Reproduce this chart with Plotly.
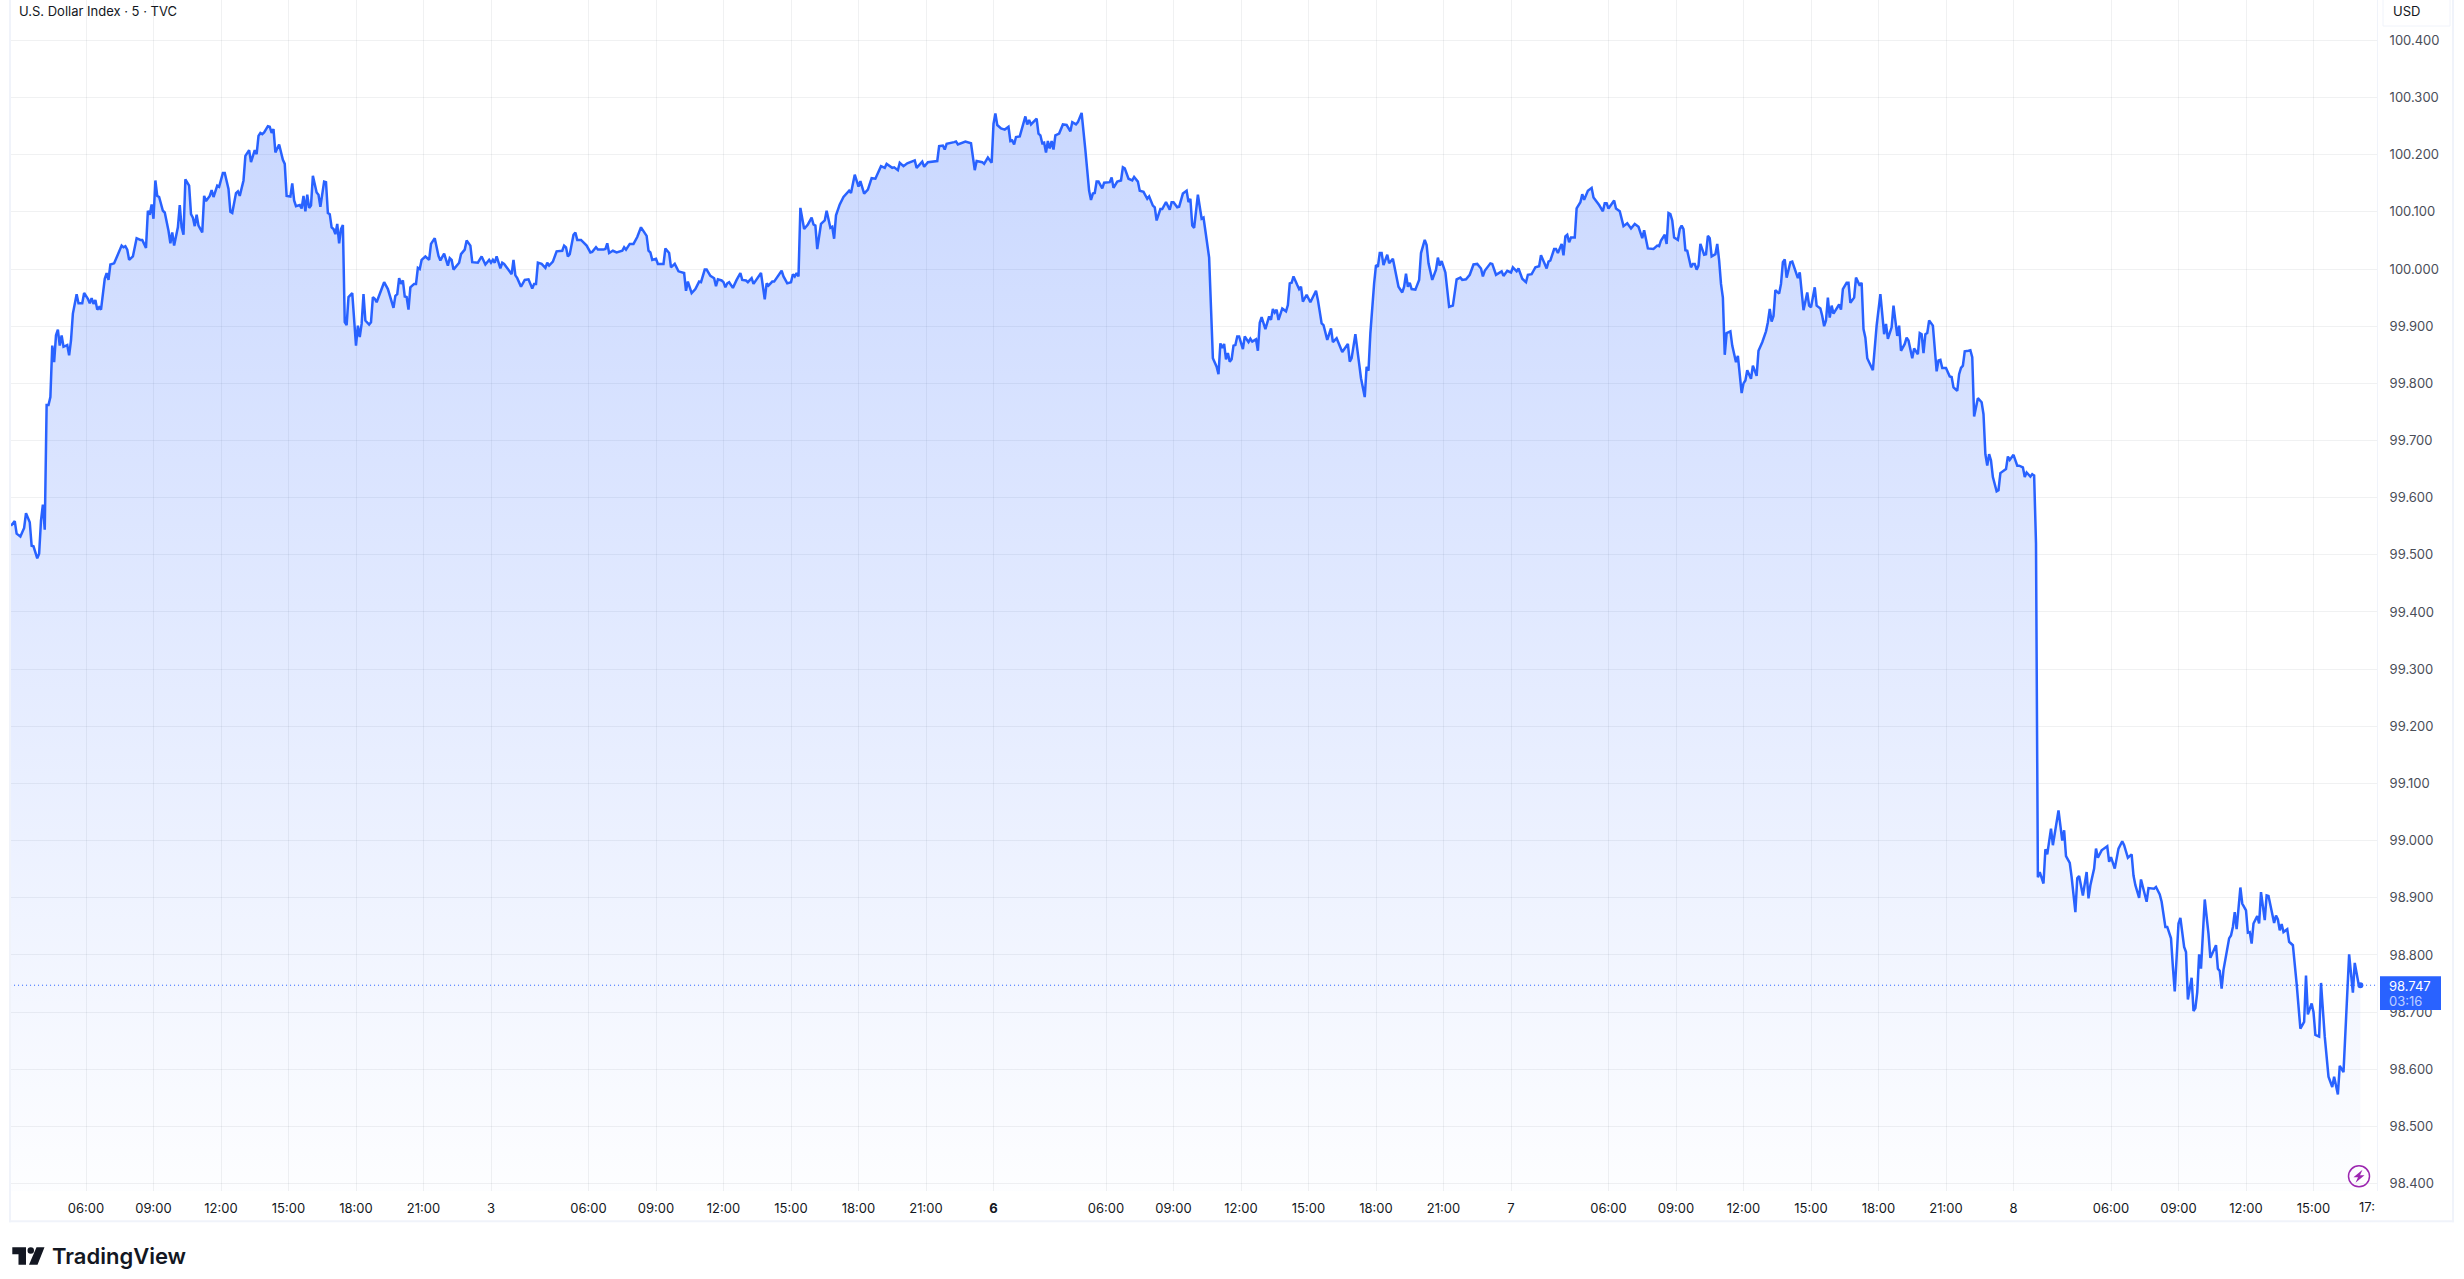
import plotly.graph_objects as go

# (bar index of the 5-minute series, close price)
session_a = [(0,99.551),(2,99.559),(3,99.537),(5,99.532),(7,99.547),(8,99.573),(10,99.557),(11,99.516),(12,99.515),(14,99.494),(15,99.502),(16,99.560),(17,99.588),(18,99.544),(19,99.762),(20,99.762),(21,99.776),(22,99.866),(23,99.837),(24,99.884),(25,99.894),(26,99.866),(27,99.884),(28,99.864),(30,99.867),(31,99.849),(32,99.875),(33,99.922),(35,99.956),(36,99.94),(38,99.94),(39,99.958),(41,99.948),(42,99.94),(43,99.949),(44,99.939),(45,99.946),(46,99.929),(47,99.933),(48,99.929),(50,99.983),(51,99.993),(52,99.981),(53,100.008),(55,100.01),(57,100.026),(59,100.041),(60,100.038),(61,100.04),(62,100.034),(63,100.016),(65,100.022),(67,100.054),(69,100.051),(70,100.051),(72,100.037),(73,100.102),(74,100.095),(75,100.113),(76,100.088),(77,100.155),(78,100.128),(79,100.126),(81,100.102),(82,100.099),(84,100.067),(85,100.045),(86,100.064),(87,100.041),(89,100.073),(90,100.112),(91,100.073),(92,100.06),(93,100.157),(95,100.146),(96,100.096),(97,100.09),(98,100.075),(99,100.095),(100,100.076),(102,100.064),(103,100.128),(104,100.119),(106,100.128),(107,100.138),(108,100.126),(110,100.146),(111,100.144),(113,100.168),(114,100.168),(116,100.14),(117,100.1),(118,100.098),(120,100.133),(121,100.136),(122,100.128),(124,100.155),(125,100.198),(127,100.208),(128,100.187),(130,100.208),(131,100.201),(132,100.233),(133,100.238),(134,100.236),(135,100.239),(137,100.25),(138,100.249),(139,100.238),(140,100.245),(141,100.204),(143,100.218),(145,100.191),(146,100.184),(147,100.128),(149,100.127),(150,100.15),(151,100.12),(152,100.11),(154,100.112),(155,100.106),(156,100.128),(157,100.101),(158,100.13),(159,100.107),(160,100.111),(161,100.163),(163,100.134),(164,100.13),(165,100.109),(167,100.153),(168,100.152),(169,100.098),(170,100.096),(171,100.073),(172,100.07),(173,100.061),(174,100.079),(175,100.045),(176,100.07),(177,100.077),(178,99.907),(179,99.902),(180,99.951),(182,99.958),(184,99.866),(185,99.901),(186,99.881),(187,99.904),(188,99.956),(189,99.91),(191,99.903),(192,99.907),(193,99.951),(194,99.948),(195,99.942),(197,99.961),(199,99.977),(201,99.965),(204,99.932),(205,99.953),(206,99.956),(207,99.984),(208,99.974),(209,99.98),(210,99.952),(211,99.951),(212,99.929),(213,99.968),(215,99.974),(216,99.974),(217,100.002),(218,100.0)]

session_b = [(219,100.016),(221,100.022),(223,100.016),(224,100.044),(225,100.048),(226,100.054),(228,100.023),(229,100.015),(231,100.027),(233,100.006),(234,100.019),(235,100.016),(236,99.999),(239,100.011),(240,100.026),(242,100.034),(243,100.05),(245,100.041),(246,100.012),(249,100.011),(251,100.022),(253,100.008),(255,100.016),(256,100.011),(257,100.016),(258,100.011),(259,100.022),(261,100.001),(262,100.011),(263,100.009),(265,100.0),(267,99.991),(268,100.016),(269,99.989),(270,99.984),(272,99.969),(274,99.981),(276,99.982),(278,99.966),(279,99.974),(280,99.974),(281,100.011),(283,100.009),(285,100.002),(286,100.011),(287,100.006),(289,100.013),(291,100.031),(294,100.032),(295,100.041),(296,100.038),(297,100.022),(298,100.026),(300,100.06),(301,100.064),(302,100.051),(304,100.051),(307,100.041),(309,100.029),(310,100.03),(312,100.038),(313,100.034),(316,100.034),(317,100.035),(318,100.045),(319,100.028),(321,100.032),(323,100.029),(326,100.032),(327,100.038),(328,100.034),(330,100.044),(332,100.044),(334,100.056),(336,100.073),(339,100.058),(340,100.032),(341,100.029),(342,100.016),(344,100.018),(345,100.009),(348,100.009),(349,100.036),(351,100.028),(352,100.003),(354,100.009),(356,99.996),(359,99.993),(360,99.962),(361,99.978),(363,99.958),(365,99.965),(367,99.978),(368,99.977),(370,99.999),(371,99.999),(373,99.988),(375,99.984),(376,99.97),(377,99.982),(379,99.98),(380,99.977),(381,99.968),(382,99.975),(383,99.977),(385,99.967),(387,99.981),(389,99.993),(390,99.981),(392,99.98),(393,99.977),(395,99.984),(396,99.974),(400,99.993),(402,99.947),(403,99.975),(404,99.971),(406,99.978),(407,99.978),(409,99.988),(411,99.997),(412,99.987),(414,99.975),(416,99.977),(417,99.991),(418,99.987),(419,99.993),(420,99.987),(421,100.107),(423,100.07),(425,100.078),(427,100.09),(428,100.078),(429,100.076),(430,100.035),(432,100.079),(434,100.085),(435,100.102),(437,100.072),(438,100.074),(439,100.053),(440,100.094),(442,100.113)]

session_c = [(444,100.126),(447,100.137),(448,100.133),(450,100.165),(452,100.144),(453,100.154),(455,100.132),(457,100.139),(459,100.159),(461,100.158),(464,100.18),(466,100.177),(467,100.184),(470,100.177),(471,100.178),(473,100.173),(474,100.186),(476,100.18),(478,100.185),(482,100.19),(483,100.177),(486,100.188),(487,100.179),(489,100.187),(494,100.189),(495,100.215),(497,100.216),(498,100.209),(499,100.219),(501,100.22),(503,100.222),(504,100.223),(505,100.218),(509,100.223),(512,100.22),(514,100.173),(515,100.189),(518,100.187),(519,100.184),(521,100.195),(523,100.186),(524,100.254),(525,100.272),(526,100.252),(528,100.246),(530,100.244),(532,100.249),(533,100.224),(534,100.225),(535,100.218),(536,100.231),(538,100.232),(539,100.243),(541,100.267),(542,100.253),(543,100.261),(544,100.253),(547,100.263),(548,100.237),(549,100.234),(550,100.22),(551,100.221),(552,100.204),(553,100.224),(554,100.211),(555,100.224),(556,100.209),(557,100.234),(559,100.237),(561,100.253),(563,100.252),(565,100.241),(566,100.257),(568,100.253),(569,100.257),(571,100.273),(573,100.208),(575,100.137),(576,100.121),(577,100.132),(578,100.133),(579,100.153),(580,100.153),(582,100.141),(583,100.151),(586,100.152),(587,100.16),(588,100.142),(590,100.153),(592,100.155),(593,100.178),(594,100.176),(596,100.158),(598,100.155),(599,100.161),(601,100.153),(602,100.137),(604,100.135),(606,100.123),(607,100.127),(609,100.111),(610,100.108),(611,100.085),(613,100.105),(614,100.105),(616,100.117),(618,100.104),(619,100.117),(620,100.117),(622,100.108),(623,100.109),(625,100.132),(627,100.137),(628,100.117),(629,100.123),(630,100.076),(631,100.072),(633,100.13),(635,100.088),(636,100.09),(637,100.067),(639,100.02),(641,99.844),(643,99.829),(644,99.816),(645,99.870),(646,99.862),(647,99.869),(648,99.842),(649,99.853),(650,99.838),(651,99.842),(652,99.866),(653,99.867),(654,99.882),(655,99.882),(657,99.86),(658,99.882),(660,99.872),(661,99.878),(662,99.873),(664,99.877),(665,99.857),(666,99.906),(667,99.916),(669,99.895),(671,99.917),(672,99.911),(673,99.93),(674,99.924),(675,99.929),(676,99.911),(678,99.931),(680,99.926),(681,99.937),(682,99.975),(683,99.976),(684,99.987),(686,99.972),(687,99.965),(688,99.969),(689,99.943),(691,99.955),(693,99.942),(696,99.962),(697,99.946),(699,99.905),(700,99.902),(702,99.876),(704,99.896),(705,99.872),(707,99.879),(710,99.855),(713,99.869),(714,99.838),(715,99.844),(717,99.886),(720,99.809),(722,99.776),(723,99.829),(724,99.822),(725,99.888),(727,99.975),(728,100.007),(729,100.004),(730,100.028),(731,100.028),(732,100.007),(734,100.025),(735,100.01),(737,100.018),(738,100.001),(740,99.969),(742,99.959),(743,99.969),(744,99.992),(745,99.969),(746,99.976),(747,99.965),(749,99.964),(751,99.981),(752,100.028),(754,100.051),(755,100.042),(756,100.01),(758,99.981),(760,99.999),(761,100.02),(762,100.006),(763,100.014),(765,99.994),(767,99.934),(769,99.936),(771,99.982),(773,99.985),(774,99.981),(776,99.982),(778,99.99),(780,100.008),(782,100.009),(784,100.001),(785,99.987),(786,99.997),(789,100.01),(790,100.009),(792,99.99),(795,99.996),(796,99.988),(798,99.997),(800,99.994),(801,100.003),(803,99.996),(804,100.001)]

session_d = [(806,99.983),(808,99.977),(809,99.99),(811,99.991),(812,99.997),(813,100.003),(815,100.005),(816,100.024),(818,100.009),(819,100.001),(820,100.013),(821,100.015),(823,100.035),(824,100.035),(825,100.028),(827,100.044),(828,100.024),(829,100.057),(830,100.06),(831,100.047),(832,100.055),(834,100.055),(835,100.106),(837,100.117),(838,100.131),(839,100.121),(841,100.137),(843,100.142),(844,100.125),(847,100.112),(849,100.101),(850,100.115),(851,100.115),(852,100.106),(855,100.12),(856,100.106),(858,100.101),(860,100.075),(862,100.08),(864,100.071),(866,100.079),(868,100.074),(870,100.054),(871,100.068),(873,100.036),(876,100.035),(878,100.041),(879,100.04),(880,100.05),(882,100.06),(883,100.044),(884,100.098),(885,100.096),(886,100.085),(887,100.055),(889,100.051),(890,100.07),(891,100.076),(892,100.07),(893,100.033),(894,100.032),(896,100.003),(897,100.009),(898,100.009),(899,99.999),(900,100.006),(901,100.044),(903,100.025),(904,100.026),(905,100.058),(906,100.054),(907,100.022),(909,100.026),(910,100.044),(911,100.015),(912,99.974),(913,99.95),(914,99.85),(915,99.888),(917,99.891),(918,99.866),(920,99.837),(921,99.848),(922,99.816),(923,99.783),(924,99.8),(925,99.805),(926,99.823),(928,99.808),(929,99.831),(931,99.813),(932,99.857),(934,99.872),(936,99.891),(937,99.907),(938,99.93),(939,99.908),(940,99.918),(941,99.963),(943,99.957),(944,99.974),(945,100.012),(946,100.017),(947,99.985),(949,100.012),(950,100.013),(952,99.994),(953,99.984),(954,99.994),(956,99.928),(958,99.959),(959,99.936),(960,99.933),(962,99.968),(963,99.936),(965,99.931),(966,99.918),(967,99.9),(968,99.91),(969,99.95),(970,99.915),(971,99.936),(972,99.922),(975,99.938),(976,99.929),(977,99.965),(979,99.976),(980,99.976),(981,99.941),(983,99.95),(984,99.985),(986,99.971),(987,99.976),(988,99.895),(989,99.88),(990,99.844),(991,99.837),(993,99.823),(995,99.901),(997,99.956),(999,99.886),(1000,99.904),(1001,99.878),(1003,99.898),(1004,99.936),(1006,99.883),(1007,99.901),(1008,99.857),(1010,99.869),(1011,99.88),(1012,99.875),(1014,99.844),(1015,99.861),(1017,99.851),(1018,99.888),(1019,99.886),(1020,99.853),(1021,99.886),(1022,99.888),(1023,99.91),(1025,99.901),(1026,99.854),(1027,99.821),(1028,99.84),(1029,99.841),(1030,99.827),(1032,99.827),(1034,99.812),(1035,99.811),(1036,99.793),(1038,99.787),(1039,99.816),(1040,99.827),(1041,99.831),(1042,99.856),(1044,99.857),(1045,99.858),(1046,99.846),(1047,99.742),(1049,99.774),(1051,99.767),(1052,99.746),(1053,99.676),(1054,99.656),(1055,99.676),(1056,99.665),(1057,99.636),(1059,99.611),(1060,99.613),(1061,99.643),(1064,99.65),(1065,99.672),(1066,99.666),(1068,99.675),(1070,99.656),(1071,99.656),(1073,99.653),(1074,99.636),(1075,99.644),(1077,99.637),(1078,99.641),(1079,99.639),(1080,99.52)]

session_e = [(1081,98.936),(1082,98.945),(1084,98.925),(1085,98.985),(1086,98.976),(1088,99.021),(1089,98.992),(1090,99.015),(1092,99.053),(1094,99.0),(1095,99.018),(1096,98.973),(1098,98.961),(1099,98.936),(1100,98.91),(1101,98.875),(1102,98.934),(1103,98.938),(1105,98.904),(1107,98.945),(1108,98.899),(1109,98.922),(1111,98.951),(1112,98.986),(1113,98.97),(1115,98.983),(1118,98.99),(1119,98.963),(1120,98.971),(1122,98.951),(1124,98.986),(1126,98.999),(1127,98.992),(1129,98.97),(1131,98.976),(1132,98.939),(1133,98.922),(1135,98.9),(1136,98.932),(1139,98.893),(1140,98.917),(1143,98.916),(1144,98.919),(1146,98.906),(1147,98.893),(1149,98.849),(1150,98.849),(1152,98.829),(1153,98.779),(1154,98.736),(1156,98.855),(1157,98.865),(1159,98.814),(1160,98.805),(1161,98.722),(1163,98.76),(1164,98.702),(1165,98.707),(1166,98.735),(1167,98.801),(1168,98.776),(1170,98.897),(1172,98.837),(1173,98.795),(1176,98.817),(1177,98.776),(1178,98.772),(1179,98.741),(1180,98.774),(1182,98.814),(1183,98.829),(1184,98.834),(1185,98.849),(1186,98.875),(1187,98.845),(1189,98.918),(1190,98.89),(1192,98.878),(1193,98.839),(1194,98.84),(1195,98.82),(1196,98.855),(1198,98.868),(1199,98.855),(1200,98.91),(1202,98.861),(1203,98.904),(1204,98.903),(1207,98.856),(1208,98.869),(1209,98.862),(1210,98.843),(1211,98.854),(1212,98.84),(1214,98.845),(1215,98.823),(1217,98.817),(1219,98.75),(1221,98.671),(1223,98.683),(1224,98.764),(1225,98.696),(1227,98.715),(1228,98.7),(1229,98.66),(1231,98.657),(1232,98.751),(1234,98.657),(1235,98.627),(1236,98.587),(1238,98.569),(1239,98.587),(1241,98.556),(1242,98.606),(1244,98.595),(1247,98.801),(1249,98.734),(1250,98.786),(1252,98.75),(1253,98.747)]

time_tick_bars = [40,76,112,148,184,220,256,308,344,380,416,452,488,524,584,620,656,692,728,764,800,852,888,924,960,996,1032,1068,1120,1156,1192,1228]
time_tick_text = ["06:00","09:00","12:00","15:00","18:00","21:00","3","06:00","09:00","12:00","15:00","18:00","21:00","<b>6</b>","06:00","09:00","12:00","15:00","18:00","21:00","7","06:00","09:00","12:00","15:00","18:00","21:00","8","06:00","09:00","12:00","15:00"]
price_ticks = [98.4,98.5,98.6,98.7,98.8,98.9,99.0,99.1,99.2,99.3,99.4,99.5,99.6,99.7,99.8,99.9,100.0,100.1,100.2,100.3,100.4]
last_price = 98.747
countdown = "03:16"
chart_title = "U.S. Dollar Index · 5 · TVC"
currency = "USD"

BLUE = "#2962ff"
TEXT = "#131722"
AXIS_TEXT = "#4a4e59"
GRID = "rgba(120,123,134,0.11)"
FRAME = "#f0f3fa"
FONT = "Inter"

W, H = 2464, 1279
L, R, T, B = 10, 2377, 0, 1190.7


def fx(p):
    return (p - L) / (R - L)


def fy(p):
    return 1 - (p - T) / (B - T)


series = session_a + session_b + session_c + session_d + session_e
bars = [s[0] for s in series]
prices = [s[1] for s in series]
floor_price = 98.387

fig = go.Figure()
fig.add_trace(go.Scatter(x=[bars[0], bars[-1]], y=[floor_price, floor_price], mode="lines",
                         line=dict(width=0), showlegend=False, hoverinfo="skip"))
fig.add_trace(go.Scatter(x=bars, y=prices, mode="lines", fill="tonexty",
                         line=dict(color=BLUE, width=2.5, shape="linear"),
                         fillgradient=dict(type="vertical",
                                           colorscale=[[0, "rgba(41,98,255,0.01)"], [1, "rgba(41,98,255,0.25)"]]),
                         showlegend=False, name="DXY"))
fig.add_trace(go.Scatter(x=[-0.5, 1262], y=[last_price, last_price], mode="lines",
                         line=dict(color=BLUE, width=1, dash="1px 3px"), showlegend=False, hoverinfo="skip"))
fig.add_trace(go.Scatter(x=[bars[-1]], y=[last_price], mode="markers",
                         marker=dict(color=BLUE, size=6), showlegend=False))


def rect(x0, y0, x1, y1, **kw):
    return dict(type="rect", xref="paper", yref="paper", x0=fx(x0), x1=fx(x1), y0=fy(y0), y1=fy(y1), **kw)


def poly(points, **kw):
    d = "M " + " L ".join(f"{fx(a):.6f} {fy(b):.6f}" for a, b in points) + " Z"
    return dict(type="path", xref="paper", yref="paper", path=d, **kw)


shapes = [
    rect(9, -2, 11, 1222, fillcolor=FRAME, line_width=0),
    rect(9, 1220, 2454, 1222, fillcolor=FRAME, line_width=0),
    rect(2452, -2, 2454, 1222, fillcolor=FRAME, line_width=0),
    dict(type="rect", xref="paper", yref="paper", x0=fx(2383), x1=fx(2450), y0=fy(26), y1=fy(-6),
         fillcolor="white", line=dict(color=FRAME, width=1)),
    rect(2380, 976, 2441, 1009.7, fillcolor=BLUE, line_width=0, layer="above"),
    dict(type="circle", xref="paper", yref="paper", x0=fx(2348.5), x1=fx(2369.5), y0=fy(1165.5), y1=fy(1186.5),
         fillcolor="rgba(255,255,255,0)", line=dict(color="#9c27b0", width=1.5)),
    poly([(2362.5, 1169.5), (2353.5, 1177), (2358, 1177), (2355.5, 1182.5), (2364.5, 1175), (2360, 1175)],
         fillcolor="#9c27b0", line_width=0),
    # TradingView mark
    poly([(12.3, 1247), (26, 1247), (26, 1264.5), (18.5, 1264.5), (18.5, 1254), (12.3, 1254)],
         fillcolor=TEXT, line_width=0),
    dict(type="circle", xref="paper", yref="paper", x0=fx(27.5), x1=fx(34), y0=fy(1247), y1=fy(1253.5),
         fillcolor=TEXT, line_width=0),
    poly([(36.5, 1247), (44.5, 1247), (37.5, 1264.5), (29, 1264.5)], fillcolor=TEXT, line_width=0),
]

annotations = [
    dict(text=chart_title, x=fx(19), y=fy(10.5), font=dict(size=13, color=TEXT), xanchor="left"),
    dict(text=currency, x=fx(2393), y=fy(11), font=dict(size=13, color=TEXT), xanchor="left"),
    dict(text=f"{last_price:.3f}", x=fx(2389), y=fy(985.5), font=dict(size=13, color="white"), xanchor="left"),
    dict(text=countdown, x=fx(2389), y=fy(1000.5), font=dict(size=13, color="rgba(255,255,255,0.7)"), xanchor="left"),
    dict(text="17:", x=fx(2359), y=fy(1207), font=dict(size=13, color=TEXT), xanchor="left"),
    dict(text="TradingView", x=fx(52), y=fy(1256), font=dict(size=22, color=TEXT, weight=600), xanchor="left"),
]
for a in annotations:
    a.update(xref="paper", yref="paper", showarrow=False, yanchor="middle", xshift=0, borderpad=0, borderwidth=0)

fig.update_layout(
    width=W, height=H, autosize=False,
    margin=dict(l=L, r=W - R, t=T, b=H - B, pad=0),
    paper_bgcolor="white", plot_bgcolor="white",
    font=dict(family=FONT, size=13, color=AXIS_TEXT),
    showlegend=False, shapes=shapes, annotations=annotations,
)
fig.update_xaxes(range=[(L - 11) / 1.875, (R - 11) / 1.875], tickmode="array", tickvals=time_tick_bars,
                 ticktext=time_tick_text, showgrid=True, gridcolor=GRID, gridwidth=1, zeroline=False,
                 ticks="outside", ticklen=5, tickcolor="rgba(0,0,0,0)",
                 tickfont=dict(size=13, color=TEXT), showline=False, fixedrange=True)
fig.update_yaxes(range=[floor_price, 100.4707], side="right", tickmode="array", tickvals=price_ticks,
                 ticktext=[f"{p:.3f}" for p in price_ticks], showgrid=True, gridcolor=GRID, gridwidth=1,
                 zeroline=False, ticks="outside", ticklen=9, tickcolor="rgba(0,0,0,0)",
                 tickfont=dict(size=13, color=AXIS_TEXT), showline=True, linecolor=FRAME, linewidth=1,
                 fixedrange=True)

fig.write_html("out.html", post_script="document.body.style.margin='0';", config=dict(displayModeBar=False))
